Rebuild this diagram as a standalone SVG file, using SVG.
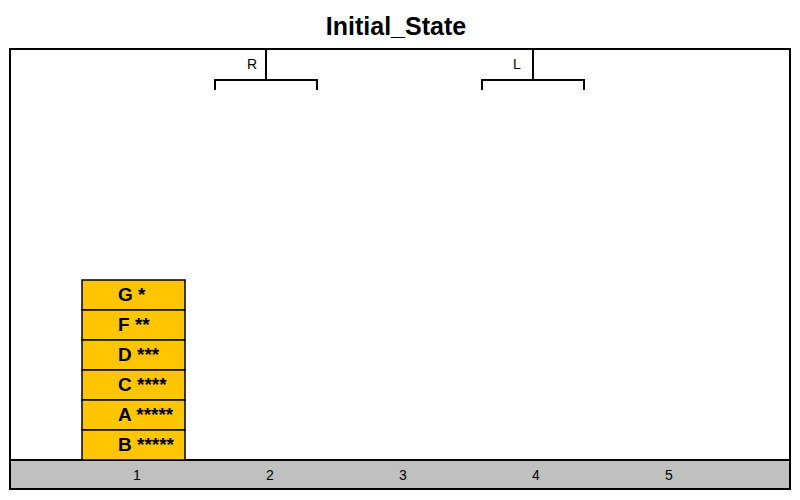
<svg xmlns="http://www.w3.org/2000/svg" width="800" height="500" viewBox="0 0 800 500">
<style>
.title{font-family:"Liberation Sans",Arial,sans-serif;font-weight:bold;font-size:25px;fill:#000}
.blk rect{fill:#FFC600;stroke:#000;stroke-width:1.5}
.blk text{font-family:"Liberation Sans",Arial,sans-serif;font-weight:bold;font-size:19px;fill:#000}
.lbl{font-family:"Liberation Sans",Arial,sans-serif;font-size:14px;fill:#000}
.grip{fill:none;stroke:#000;stroke-width:2}
</style>
<rect width="800" height="500" fill="#fff"/>
<text class="title" x="396" y="35" text-anchor="middle">Initial_State</text>
<rect x="10" y="49" width="780" height="440" fill="#fff" stroke="#000" stroke-width="2"/>
<rect id="floor" x="10" y="460" width="780" height="29" fill="#C0C0C0" stroke="#000" stroke-width="2"/>
<g id="floor-labels">
<text class="lbl" x="137" y="480" text-anchor="middle">1</text>
<text class="lbl" x="270" y="480" text-anchor="middle">2</text>
<text class="lbl" x="403" y="480" text-anchor="middle">3</text>
<text class="lbl" x="536" y="480" text-anchor="middle">4</text>
<text class="lbl" x="669" y="480" text-anchor="middle">5</text>
</g>
<g id="gripper-R">
<path class="grip" d="M266 49V80M215 90V80H317V90"/>
<text class="lbl" x="252" y="69" text-anchor="middle">R</text>
</g>
<g id="gripper-L">
<path class="grip" d="M533 49V80M482 90V80H584V90"/>
<text class="lbl" x="517" y="69" text-anchor="middle">L</text>
</g>
<g id="block-G" class="blk"><rect x="82" y="280" width="103" height="30"/><text x="118" y="301">G *</text></g>
<g id="block-F" class="blk"><rect x="82" y="310" width="103" height="30"/><text x="118" y="331">F **</text></g>
<g id="block-D" class="blk"><rect x="82" y="340" width="103" height="30"/><text x="118" y="361">D ***</text></g>
<g id="block-C" class="blk"><rect x="82" y="370" width="103" height="30"/><text x="118" y="391">C ****</text></g>
<g id="block-A" class="blk"><rect x="82" y="400" width="103" height="30"/><text x="118" y="421">A *****</text></g>
<g id="block-B" class="blk"><rect x="82" y="430" width="103" height="30"/><text x="118" y="451">B *****</text></g>
</svg>
